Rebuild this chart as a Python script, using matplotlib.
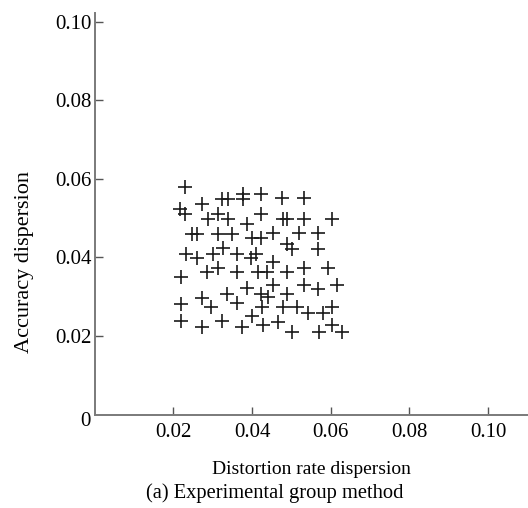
import matplotlib

matplotlib.use("Agg")

import matplotlib.pyplot as plt

# distortion rate dispersion (x) and accuracy dispersion (y)
distortion = [
    0.0231, 0.0272, 0.0324, 0.0340, 0.0376, 0.0376, 0.0218, 0.0230, 0.0289, 0.0314,
    0.0340, 0.0387, 0.0247, 0.0260, 0.0314, 0.0348, 0.0399, 0.0232, 0.0260, 0.0300,
    0.0327, 0.0362, 0.0398, 0.0410, 0.0423, 0.0477, 0.0532, 0.0423, 0.0480, 0.0490,
    0.0532, 0.0603, 0.0422, 0.0453, 0.0519, 0.0567, 0.0488, 0.0501, 0.0567, 0.0219,
    0.0285, 0.0314, 0.0363, 0.0414, 0.0219, 0.0272, 0.0296, 0.0336, 0.0363, 0.0387,
    0.0219, 0.0272, 0.0323, 0.0374, 0.0399, 0.0454, 0.0437, 0.0490, 0.0533, 0.0592,
    0.0454, 0.0533, 0.0567, 0.0615, 0.0423, 0.0441, 0.0490, 0.0425, 0.0480, 0.0514,
    0.0543, 0.0581, 0.0603, 0.0429, 0.0465, 0.0502, 0.0569, 0.0604, 0.0628,
]
accuracy = [
    0.0580, 0.0536, 0.0548, 0.0548, 0.0561, 0.0548, 0.0524, 0.0511, 0.0499, 0.0510,
    0.0499, 0.0486, 0.0460, 0.0460, 0.0460, 0.0460, 0.0449, 0.0408, 0.0398, 0.0408,
    0.0423, 0.0408, 0.0398, 0.0408, 0.0562, 0.0550, 0.0550, 0.0511, 0.0499, 0.0499,
    0.0499, 0.0499, 0.0450, 0.0463, 0.0462, 0.0462, 0.0434, 0.0422, 0.0422, 0.0349,
    0.0363, 0.0373, 0.0363, 0.0364, 0.0281, 0.0297, 0.0273, 0.0307, 0.0284, 0.0322,
    0.0237, 0.0224, 0.0237, 0.0224, 0.0250, 0.0388, 0.0364, 0.0363, 0.0373, 0.0373,
    0.0330, 0.0330, 0.0320, 0.0330, 0.0307, 0.0298, 0.0307, 0.0273, 0.0273, 0.0273,
    0.0258, 0.0258, 0.0273, 0.0227, 0.0235, 0.0210, 0.0210, 0.0227, 0.0210,
]
ticks = [0.02, 0.04, 0.06, 0.08, 0.10]
tick_labels = ["0.02", "0.04", "0.06", "0.08", "0.10"]

plt.rcParams["font.family"] = ["Liberation Serif", "DejaVu Serif"]

fig = plt.figure(figsize=(5.28, 5.08), dpi=100)
ax = fig.add_axes([0.179, 0.184, 0.821, 0.791])

ax.plot(distortion, accuracy, linestyle="none", marker="+", markersize=9.5,
        markeredgewidth=1.2, color="#1a1a1a")

ax.set_xlim(0, 0.1101)
ax.set_ylim(0, 0.1023)
ax.set_xticks(ticks)
ax.set_xticklabels(tick_labels)
ax.set_yticks(ticks)
ax.set_yticklabels(tick_labels)

for side in ("top", "right"):
    ax.spines[side].set_visible(False)
for side in ("left", "bottom"):
    ax.spines[side].set_color("#7a7a7a")
    ax.spines[side].set_linewidth(1.4)

ax.tick_params(axis="both", direction="in", length=6, width=1.0, color="#555555",
               labelsize=15)
ax.tick_params(axis="x", pad=6)
ax.tick_params(axis="y", pad=2)

ax.annotate("0", (0, 0), xytext=(-3, -5), textcoords="offset points",
            ha="right", va="center", fontsize=15, annotation_clip=False)

ax.set_xlabel("Distortion rate dispersion", fontsize=14, labelpad=14)
fig.text(25 / 528, 1 - 262 / 508, "Accuracy dispersion", rotation=90,
         ha="center", va="center", fontsize=16)
fig.text(275 / 528, 1 - 493 / 508, "(a) Experimental group method",
         ha="center", va="center", fontsize=14.8)

fig.savefig("out.png", dpi=100)
